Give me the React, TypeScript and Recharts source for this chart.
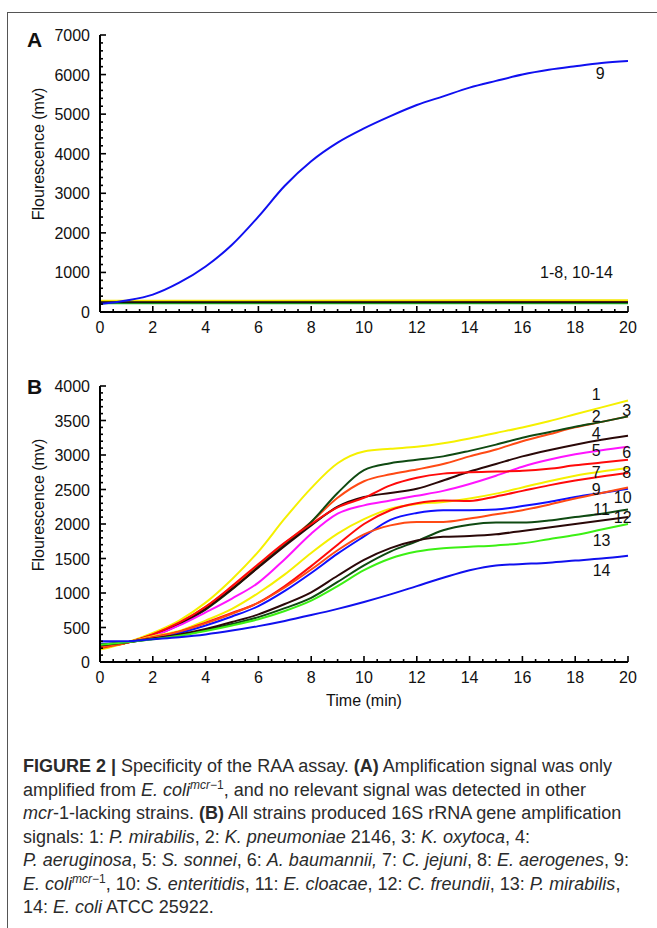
import React from 'react';
import { LineChart, Line, XAxis, YAxis, ReferenceDot } from 'recharts';

// time axis (min)
const TIME = [0, 1, 2, 3, 4, 5, 6, 7, 8, 9, 10, 11, 12, 13, 14, 15, 16, 17, 18, 19, 20];

// panel A: only E. coli mcr-1 (9) amplifies
const A_SIGNAL_9 = [200, 290, 440, 740, 1150, 1700, 2410, 3190, 3810, 4280, 4640, 4950, 5230, 5450, 5670, 5840, 6000, 6120, 6210, 6290, 6340];
// panel A: flat baselines of the other strains (start, end)
const A_FLAT_TIME = [0, 20];
const A_FLAT = [
  { name: 'green', color: '#22c422', values: [222, 224] },
  { name: 'orange', color: '#ff5a1f', values: [258, 262] },
  { name: 'red', color: '#ff1010', values: [265, 270] },
  { name: 'yellow', color: '#f5e800', values: [282, 300] },
  { name: 'black', color: '#111111', values: [244, 246] },
];

// panel B: 16S rRNA signal for strains 1-14
const B_S1 = [180, 280, 420, 600, 860, 1200, 1600, 2080, 2520, 2880, 3050, 3090, 3120, 3170, 3240, 3320, 3400, 3490, 3590, 3690, 3790];
const B_S2 = [200, 280, 400, 570, 800, 1090, 1400, 1720, 2030, 2380, 2620, 2720, 2790, 2870, 2980, 3080, 3200, 3300, 3400, 3480, 3560];
const B_S3 = [230, 280, 380, 540, 760, 1050, 1380, 1700, 2030, 2450, 2780, 2880, 2930, 2980, 3060, 3150, 3250, 3330, 3410, 3480, 3560];
const B_S4 = [220, 280, 390, 550, 770, 1060, 1370, 1680, 1980, 2250, 2390, 2450, 2510, 2630, 2760, 2870, 2980, 3070, 3150, 3220, 3280];
const B_S5 = [240, 280, 375, 530, 720, 920, 1150, 1490, 1860, 2150, 2270, 2340, 2410, 2480, 2580, 2700, 2830, 2930, 3010, 3070, 3120];
const B_S6 = [210, 280, 400, 570, 800, 1100, 1420, 1730, 2000, 2240, 2380, 2560, 2670, 2730, 2750, 2760, 2770, 2800, 2850, 2890, 2930];
const B_S7 = [190, 280, 375, 450, 600, 770, 1000, 1270, 1580, 1860, 2070, 2220, 2290, 2320, 2370, 2440, 2530, 2620, 2700, 2760, 2810];
const B_S8 = [200, 280, 360, 440, 570, 710, 860, 1100, 1390, 1700, 2000, 2200, 2300, 2340, 2335, 2400, 2480, 2560, 2630, 2690, 2740];
const B_S9 = [260, 285, 345, 420, 530, 660, 810, 1030, 1290, 1570, 1820, 2060, 2160, 2200, 2200, 2210, 2260, 2320, 2390, 2450, 2510];
const B_S10 = [210, 280, 355, 440, 560, 700, 860, 1080, 1340, 1620, 1850, 1980, 2030, 2030, 2080, 2140, 2200, 2280, 2370, 2450, 2530];
const B_S11 = [250, 285, 335, 390, 460, 550, 650, 780, 930, 1160, 1400, 1600, 1750, 1910, 1990, 2020, 2020, 2050, 2100, 2150, 2210];
const B_S12 = [240, 285, 340, 400, 480, 580, 690, 840, 1010, 1250, 1480, 1650, 1760, 1815, 1825, 1850, 1900, 1950, 2000, 2050, 2100];
const B_S13 = [250, 285, 330, 380, 450, 530, 620, 740, 890, 1100, 1330, 1500, 1600, 1650, 1670, 1690, 1720, 1780, 1840, 1920, 2000];
const B_S14 = [300, 300, 330, 360, 400, 455, 520, 595, 680, 770, 870, 980, 1100, 1220, 1330, 1400, 1420, 1440, 1470, 1500, 1540];

const B_SERIES = [
  { key: 's1', color: '#f5f000', values: B_S1 },
  { key: 's2', color: '#ff4a14', values: B_S2 },
  { key: 's3', color: '#0f4a12', values: B_S3 },
  { key: 's4', color: '#2a0808', values: B_S4 },
  { key: 's5', color: '#ff14ff', values: B_S5 },
  { key: 's6', color: '#ff0a0a', values: B_S6 },
  { key: 's7', color: '#f5f000', values: B_S7 },
  { key: 's8', color: '#ff0a0a', values: B_S8 },
  { key: 's9', color: '#1010ff', values: B_S9 },
  { key: 's10', color: '#ff4a14', values: B_S10 },
  { key: 's11', color: '#0f4a12', values: B_S11 },
  { key: 's12', color: '#2a0808', values: B_S12 },
  { key: 's13', color: '#3cf014', values: B_S13 },
  { key: 's14', color: '#1010ee', values: B_S14 },
];

// curve labels (position in data units)
const B_LABELS = [
  { text: '1', x: 18.8, y: 3870 },
  { text: '2', x: 18.8, y: 3555 },
  { text: '3', x: 19.95, y: 3640 },
  { text: '4', x: 18.8, y: 3305 },
  { text: '5', x: 18.8, y: 3058 },
  { text: '6', x: 19.95, y: 3030 },
  { text: '7', x: 18.8, y: 2740 },
  { text: '8', x: 19.95, y: 2740 },
  { text: '9', x: 18.8, y: 2495 },
  { text: '10', x: 19.8, y: 2377 },
  { text: '11', x: 19.0, y: 2217 },
  { text: '12', x: 19.8, y: 2087 },
  { text: '13', x: 19.0, y: 1768 },
  { text: '14', x: 19.0, y: 1320 },
];
const A_LABELS = [
  { text: '9', x: 18.95, y: 6015 },
  { text: '1-8, 10-14', x: 18.05, y: 1000 },
];

const X_MAJOR = [0, 2, 4, 6, 8, 10, 12, 14, 16, 18, 20];
const A_Y_MAJOR = [0, 1000, 2000, 3000, 4000, 5000, 6000, 7000];
const B_Y_MAJOR = [0, 500, 1000, 1500, 2000, 2500, 3000, 3500, 4000];

const minorTicks = (max: number, step: number) => {
  const out: number[] = [];
  for (let v = 0; v <= max + 1e-9; v += step) out.push(Math.round(v * 100) / 100);
  return out;
};

const FONT = '"Liberation Sans", Arial, Helvetica, sans-serif';
const AXIS = { stroke: '#000', strokeWidth: 2 };

const makeXTick = (majors: number[]) => (props: any) => {
  const { x, y, payload } = props;
  const major = majors.includes(payload.value);
  return (
    <g>
      <line x1={x} x2={x} y1={y} y2={y - (major ? 6 : 3)} stroke="#000" strokeWidth={1.6} />
      {major && (
        <text x={x} y={y + 21} textAnchor="middle" fontSize={16} fontFamily={FONT} fill="#111">
          {payload.value}
        </text>
      )}
    </g>
  );
};

const makeYTick = (majors: number[]) => (props: any) => {
  const { x, y, payload } = props;
  const major = majors.includes(payload.value);
  return (
    <g>
      <line x1={x} x2={x + (major ? 6 : 3)} y1={y} y2={y} stroke="#000" strokeWidth={1.6} />
      {major && (
        <text x={x - 10} y={y + 6} textAnchor="end" fontSize={16} fontFamily={FONT} fill="#111">
          {payload.value}
        </text>
      )}
    </g>
  );
};

const yTitle = (cx: number, cy: number) => () => (
  <text x={cx} y={cy} transform={`rotate(-90 ${cx} ${cy})`} textAnchor="middle" dominantBaseline="central" fontSize={16} fontFamily={FONT} fill="#111">
    Flourescence (mv)
  </text>
);

const curveLabel = (text: string) => (p: any) => {
  const vb = p.viewBox || {};
  const cx = (vb.x ?? 0) + (vb.width ?? 0) / 2;
  const cy = (vb.y ?? 0) + (vb.height ?? 0) / 2;
  return (
    <text x={cx} y={cy} textAnchor="middle" dominantBaseline="central" fontSize={16} fontFamily={FONT} fill="#111">
      {text}
    </text>
  );
};

const aData = TIME.map((t, i) => ({ t, s9: A_SIGNAL_9[i] }));
const bData = TIME.map((t, i) => {
  const row: Record<string, number> = { t };
  B_SERIES.forEach((s) => {
    row[s.key] = s.values[i];
  });
  return row;
});

const PanelA = () => (
  <LineChart width={657} height={345} data={aData} margin={{ top: 35, right: 29, bottom: 32, left: 99 }}>
    <XAxis
      dataKey="t"
      type="number"
      domain={[0, 20]}
      ticks={minorTicks(20, 0.5)}
      interval={0}
      height={1}
      tickSize={0}
      tickMargin={0}
      tickLine={false}
      axisLine={AXIS}
      tick={makeXTick(X_MAJOR)}
    />
    <YAxis
      type="number"
      domain={[0, 7000]}
      ticks={minorTicks(7000, 200)}
      interval={0}
      width={1}
      tickSize={0}
      tickMargin={0}
      tickLine={false}
      axisLine={AXIS}
      tick={makeYTick(A_Y_MAJOR)}
      label={{ content: yTitle(38, 154) }}
    />
    {A_FLAT.map((f) => (
      <Line
        key={f.name}
        data={A_FLAT_TIME.map((t, i) => ({ t, v: f.values[i] }))}
        dataKey="v"
        type="linear"
        stroke={f.color}
        strokeWidth={2}
        dot={false}
        isAnimationActive={false}
      />
    ))}
    <Line dataKey="s9" type="monotone" stroke="#1010f0" strokeWidth={2} dot={false} isAnimationActive={false} />
    {A_LABELS.map((l) => (
      <ReferenceDot key={l.text} x={l.x} y={l.y} r={0} fill="none" stroke="none" label={curveLabel(l.text)} />
    ))}
  </LineChart>
);

const PanelB = () => (
  <LineChart width={657} height={370} data={bData} margin={{ top: 36, right: 29, bottom: 57, left: 99 }}>
    <XAxis
      dataKey="t"
      type="number"
      domain={[0, 20]}
      ticks={minorTicks(20, 0.5)}
      interval={0}
      height={1}
      tickSize={0}
      tickMargin={0}
      tickLine={false}
      axisLine={AXIS}
      tick={makeXTick(X_MAJOR)}
      label={{ value: 'Time (min)', position: 'bottom', offset: 32, fontSize: 16, fontFamily: FONT, fill: '#111' }}
    />
    <YAxis
      type="number"
      domain={[0, 4000]}
      ticks={minorTicks(4000, 100)}
      interval={0}
      width={1}
      tickSize={0}
      tickMargin={0}
      tickLine={false}
      axisLine={AXIS}
      tick={makeYTick(B_Y_MAJOR)}
      label={{ content: yTitle(38, 505 - 350) }}
    />
    {B_SERIES.map((s) => (
      <Line key={s.key} dataKey={s.key} type="monotone" stroke={s.color} strokeWidth={2} dot={false} isAnimationActive={false} />
    ))}
    {B_LABELS.map((l) => (
      <ReferenceDot key={l.text} x={l.x} y={l.y} r={0} fill="none" stroke="none" label={curveLabel(l.text)} />
    ))}
  </LineChart>
);

const cap: React.CSSProperties = { position: 'absolute', left: 23, whiteSpace: 'nowrap', fontSize: 18, lineHeight: '22px', color: '#2b2b2b' };
const sup: React.CSSProperties = { fontSize: 12, verticalAlign: 'super', lineHeight: 0 };

export default function App() {
  return (
    <div style={{ position: 'absolute', left: 0, top: 0, width: 657, height: 928, background: '#fff', overflow: 'hidden', fontFamily: FONT }}>
      <div style={{ position: 'absolute', left: 7, top: 12, width: 700, height: 1000, borderLeft: '1.5px solid #555', borderTop: '1.5px solid #555' }} />
      <div style={{ position: 'absolute', left: 0, top: 0 }}>
        <PanelA />
      </div>
      <div style={{ position: 'absolute', left: 0, top: 350 }}>
        <PanelB />
      </div>
      <div style={{ position: 'absolute', left: 27, top: 28, fontSize: 21, fontWeight: 'bold', color: '#111' }}>A</div>
      <div style={{ position: 'absolute', left: 27, top: 375, fontSize: 21, fontWeight: 'bold', color: '#111' }}>B</div>

      <div style={{ ...cap, top: 755 }}>
        <b>FIGURE 2 |</b> Specificity of the RAA assay. <b>(A)</b> Amplification signal was only
      </div>
      <div style={{ ...cap, top: 778.5 }}>
        amplified from <i>E. coli</i>
        <sup style={sup}><i>mcr</i>−1</sup>, and no relevant signal was detected in other
      </div>
      <div style={{ ...cap, top: 802 }}>
        <i>mcr</i>-1-lacking strains. <b>(B)</b> All strains produced 16S rRNA gene amplification
      </div>
      <div style={{ ...cap, top: 825.5 }}>
        signals: 1: <i>P. mirabilis</i>, 2: <i>K. pneumoniae</i> 2146, 3: <i>K. oxytoca</i>, 4:
      </div>
      <div style={{ ...cap, top: 849 }}>
        <i>P. aeruginosa</i>, 5: <i>S. sonnei</i>, 6: <i>A. baumannii,</i> 7: <i>C. jejuni</i>, 8: <i>E. aerogenes</i>, 9:
      </div>
      <div style={{ ...cap, top: 872.5 }}>
        <i>E. coli</i>
        <sup style={sup}><i>mcr</i>−1</sup>, 10: <i>S. enteritidis</i>, 11: <i>E. cloacae</i>, 12: <i>C. freundii</i>, 13: <i>P. mirabilis</i>,
      </div>
      <div style={{ ...cap, top: 896 }}>
        14: <i>E. coli</i> ATCC 25922.
      </div>
    </div>
  );
}
